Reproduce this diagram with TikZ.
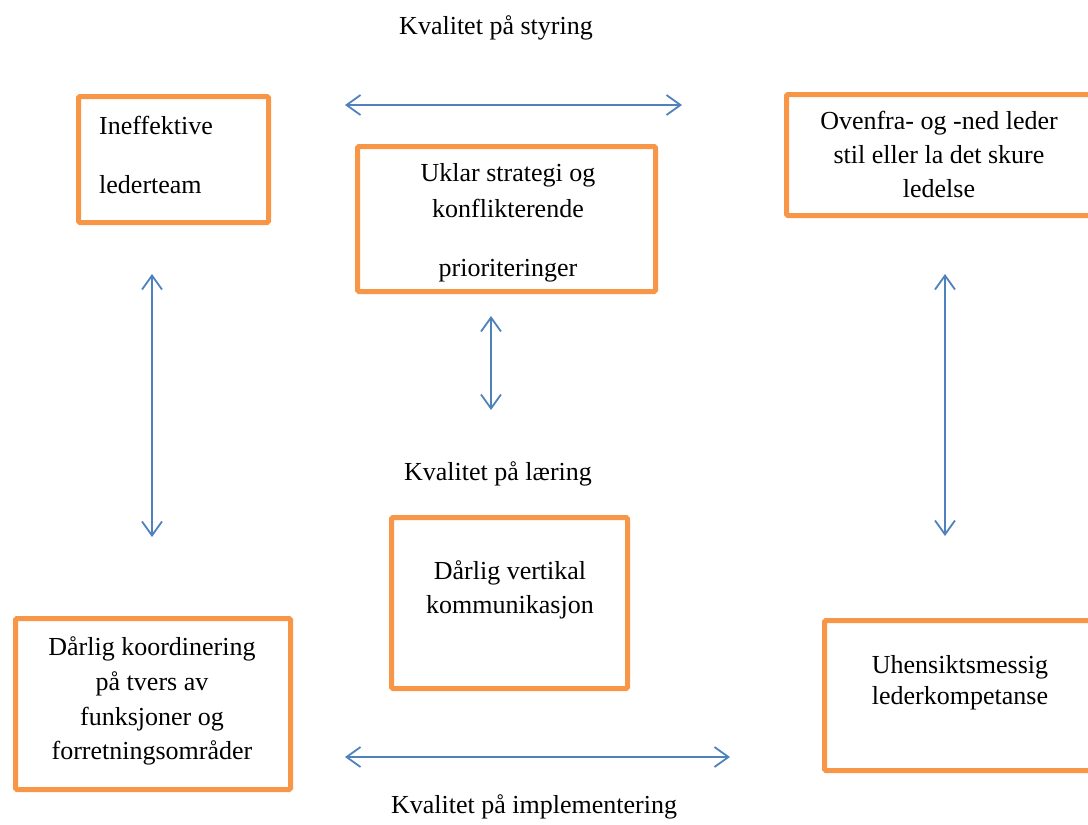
\documentclass[tikz,border=0pt]{standalone}
\usepackage{fontspec}
\setmainfont{Liberation Serif}
\usetikzlibrary{arrows.meta}
\definecolor{boxorange}{RGB}{247,150,70}
\definecolor{linkblue}{RGB}{79,129,189}

\begin{document}
\begin{tikzpicture}[x=1pt,y=-1pt,
  ledbox/.style={draw=boxorange,line width=5pt,rounded corners=1.5pt,inner sep=0pt},
  boxtext/.style={inner sep=0pt,align=center,anchor=north,font=\fontsize{26}{34}\selectfont},
  qlabel/.style={inner sep=0pt,anchor=base,font=\fontsize{26}{34}\selectfont},
  link/.style={linkblue,line width=1.8pt,{Straight Barb[length=14pt,width=20pt]}-{Straight Barb[length=14pt,width=20pt]}}]
\useasboundingbox (0,0) rectangle (1088,825);
\clip (0,0) rectangle (1088,825);
% boxes
\node[ledbox,minimum width=190pt,minimum height=126pt] (team) at (173.5,159.5) {};
\node[ledbox,minimum width=298pt,minimum height=145pt] (strategi) at (506.5,219) {};
\node[ledbox,minimum width=311pt,minimum height=121pt] (ovenfra) at (942,155) {};
\node[ledbox,minimum width=236pt,minimum height=171pt] (vertikal) at (509.5,603) {};
\node[ledbox,minimum width=275pt,minimum height=171pt] (koord) at (153,704) {};
\node[ledbox,minimum width=273pt,minimum height=150pt] (kompetanse) at (961,695.5) {};
% box texts
\node[boxtext,align=left,anchor=north west] (team-txt) at (99,116) {Ineffektive\\[25pt]lederteam};
\node[boxtext] (strategi-txt) at (508,163) {Uklar strategi og\\[2pt]konflikterende\\[25pt]prioriteringer};
\node[boxtext] (ovenfra-txt) at (939,111) {Ovenfra- og -ned leder\\stil eller la det skure\\ledelse};
\node[boxtext] (vertikal-txt) at (510,560) {Dårlig vertikal\\kommunikasjon};
\node[boxtext] (koord-txt) at (152,636) {Dårlig koordinering\\[1pt]på tvers av\\[1pt]funksjoner og\\forretningsområder};
\node[boxtext] (kompetanse-txt) at (960,655) {Uhensiktsmessig\\[-3pt]lederkompetanse};
% quality labels
\node[qlabel] (styring) at (496,34) {Kvalitet på styring};
\node[qlabel] (laering) at (498,480) {Kvalitet på læring};
\node[qlabel] (impl) at (534,813) {Kvalitet på implementering};
% arrow ends
\coordinate (top-l) at (345,105);
\coordinate (top-r) at (682,105);
\coordinate (left-t) at (152,274);
\coordinate (left-b) at (152,537);
\coordinate (mid-t) at (491,316);
\coordinate (mid-b) at (491,410);
\coordinate (right-t) at (945,274);
\coordinate (right-b) at (945,536);
\coordinate (bot-l) at (345,757);
\coordinate (bot-r) at (730,757);
% arrows
\draw[link] (top-l) -- (top-r);
\draw[link] (left-t) -- (left-b);
\draw[link] (mid-t) -- (mid-b);
\draw[link] (right-t) -- (right-b);
\draw[link] (bot-l) -- (bot-r);
\end{tikzpicture}
\end{document}
